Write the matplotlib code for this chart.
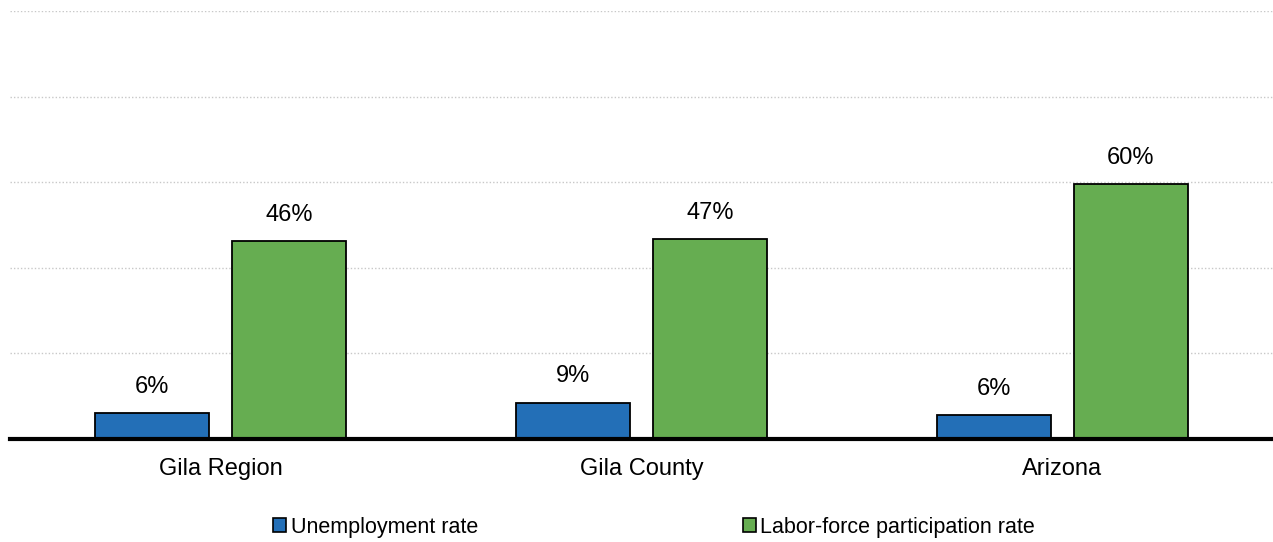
import numpy as np
import matplotlib.pyplot as plt
from matplotlib.patches import Patch

plt.rcParams['font.family'] = ['Liberation Sans', 'DejaVu Sans']

categories = ['Gila Region', 'Gila County', 'Arizona']
unemployment = [6.1, 8.5, 5.6]
participation = [46.3, 46.7, 59.6]
unemp_labels = ['6%', '9%', '6%']
part_labels = ['46%', '47%', '60%']

blue = '#236FB7'
green = '#66AD51'

fig = plt.figure(figsize=(12.73, 5.42), dpi=100)
ax = fig.add_axes([10 / 1273, 103 / 542, 1 - 10 / 1273, 428 / 542])

x = np.arange(len(categories))
w = 0.271
off = 0.1625
b1 = ax.bar(x - off, unemployment, w, color=blue, edgecolor='black', linewidth=1.3, zorder=3)
b2 = ax.bar(x + off, participation, w, color=green, edgecolor='black', linewidth=1.3, zorder=3)

for bars, labs in ((b1, unemp_labels), (b2, part_labels)):
    for bar, lab in zip(bars, labs):
        ax.annotate(lab, (bar.get_x() + bar.get_width() / 2, bar.get_height()),
                    xytext=(0, 11), textcoords='offset points',
                    ha='center', va='bottom', fontsize=17)

ax.set_xlim(-0.5, 2.5)
ax.set_ylim(0, 100)
ax.set_yticks([20, 40, 60, 80, 100])
ax.yaxis.grid(True, linestyle=(0, (1, 1.5)), color='#c8c8c8', linewidth=1)
ax.set_axisbelow(True)
ax.tick_params(axis='y', left=False, labelleft=False)
ax.set_xticks(x)
ax.set_xticklabels(categories, fontsize=17)
ax.tick_params(axis='x', length=0, pad=14)
for s in ['top', 'right', 'left']:
    ax.spines[s].set_visible(False)
ax.spines['bottom'].set_linewidth(3)
ax.spines['bottom'].set_zorder(4)

handles = [Patch(facecolor=blue, edgecolor='black', linewidth=1.2),
           Patch(facecolor=green, edgecolor='black', linewidth=1.2)]
fig.legend(handles, ['Unemployment rate', 'Labor-force participation rate'],
           loc='center', bbox_to_anchor=(654 / 1273, 15 / 542), ncol=2,
           frameon=False, fontsize=15.5, handlelength=0.6, handleheight=0.6,
           handletextpad=0.2, columnspacing=12.3)

fig.savefig('out.png', dpi=100)
